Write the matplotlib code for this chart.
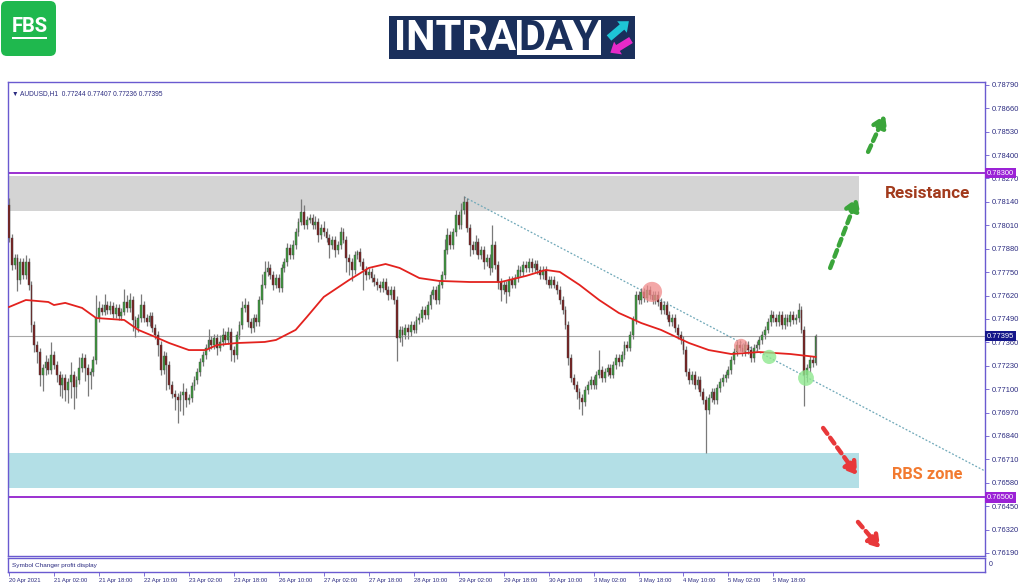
import numpy as np
import matplotlib.pyplot as plt
import matplotlib.transforms as mtransforms
from matplotlib.patches import Rectangle, FancyBboxPatch, FancyArrow

# AUDUSD H1, 20 Apr 2021 10:00 -> 6 May 2021 (prices)
first_open = 0.78123
closes = [
    0.77940, 0.77790, 0.77829, 0.77706, 0.77806, 0.77734, 0.77806, 0.77679, 0.77456, 0.77345,
    0.77306, 0.77179, 0.77217, 0.77251, 0.77206, 0.77290, 0.77234, 0.77179, 0.77123, 0.77162,
    0.77095, 0.77140, 0.77179, 0.77112, 0.77151, 0.77217, 0.77273, 0.77217, 0.77179, 0.77195,
    0.77262, 0.77495, 0.77551, 0.77529, 0.77567, 0.77540, 0.77562, 0.77517, 0.77551, 0.77506,
    0.77529, 0.77584, 0.77551, 0.77595, 0.77484, 0.77440, 0.77495, 0.77567, 0.77495, 0.77473,
    0.77506, 0.77440, 0.77401, 0.77345, 0.77206, 0.77284, 0.77234, 0.77123, 0.77073, 0.77056,
    0.77040, 0.77067, 0.77084, 0.77040, 0.77051, 0.77117, 0.77151, 0.77195, 0.77251, 0.77290,
    0.77329, 0.77373, 0.77345, 0.77384, 0.77329, 0.77362, 0.77401, 0.77373, 0.77417, 0.77317,
    0.77290, 0.77401, 0.77456, 0.77551, 0.77567, 0.77473, 0.77440, 0.77495, 0.77473, 0.77595,
    0.77679, 0.77751, 0.77773, 0.77734, 0.77679, 0.77717, 0.77662, 0.77773, 0.77806, 0.77884,
    0.77845, 0.77901, 0.77973, 0.78029, 0.78084, 0.78012, 0.78040, 0.78051, 0.78012, 0.78029,
    0.77956, 0.77995, 0.77973, 0.77940, 0.77901, 0.77929, 0.77873, 0.77901, 0.77973, 0.77929,
    0.77829, 0.77806, 0.77762, 0.77845, 0.77862, 0.77806, 0.77762, 0.77734, 0.77751, 0.77717,
    0.77695, 0.77679, 0.77662, 0.77695, 0.77651, 0.77623, 0.77651, 0.77595, 0.77384, 0.77429,
    0.77401, 0.77440, 0.77417, 0.77456, 0.77429, 0.77484, 0.77495, 0.77540, 0.77512, 0.77567,
    0.77623, 0.77651, 0.77595, 0.77679, 0.77734, 0.77873, 0.77956, 0.77901, 0.77973, 0.78067,
    0.78012, 0.78095, 0.78140, 0.77995, 0.77901, 0.77873, 0.77917, 0.77845, 0.77873, 0.77806,
    0.77829, 0.77773, 0.77901, 0.77790, 0.77695, 0.77651, 0.77679, 0.77640, 0.77706, 0.77679,
    0.77717, 0.77762, 0.77751, 0.77790, 0.77773, 0.77806, 0.77773, 0.77795, 0.77762, 0.77734,
    0.77762, 0.77706, 0.77679, 0.77706, 0.77679, 0.77651, 0.77595, 0.77540, 0.77456, 0.77273,
    0.77162, 0.77123, 0.77084, 0.77051, 0.77028, 0.77095, 0.77123, 0.77151, 0.77123, 0.77179,
    0.77206, 0.77162, 0.77195, 0.77217, 0.77179, 0.77234, 0.77273, 0.77251, 0.77290, 0.77345,
    0.77329, 0.77401, 0.77484, 0.77623, 0.77595, 0.77640, 0.77606, 0.77651, 0.77623, 0.77595,
    0.77623, 0.77584, 0.77540, 0.77567, 0.77512, 0.77473, 0.77495, 0.77440, 0.77401, 0.77373,
    0.77317, 0.77195, 0.77151, 0.77179, 0.77123, 0.77151, 0.77084, 0.77040, 0.76984, 0.77051,
    0.77084, 0.77040, 0.77106, 0.77140, 0.77162, 0.77179, 0.77206, 0.77262, 0.77306, 0.77345,
    0.77329, 0.77306, 0.77345, 0.77317, 0.77273, 0.77329, 0.77345, 0.77373, 0.77401, 0.77429,
    0.77473, 0.77512, 0.77495, 0.77473, 0.77512, 0.77456, 0.77495, 0.77473, 0.77512, 0.77484,
    0.77495, 0.77540, 0.77429, 0.77179, 0.77217, 0.77262, 0.77244, 0.77395,
]
# wick lengths in pips above / below the body
upper_wick = [
    4, 2, 2, 2, 2, 2, 4, 2, 2, 2,   2, 2, 2, 4, 2, 7, 2, 2, 2, 2,
    2, 2, 7, 2, 2, 6, 3, 2, 2, 2,   2, 13, 4, 2, 6, 2, 3, 2, 2, 2,
    2, 7, 4, 4, 2, 2, 2, 6, 2, 2,   2, 2, 2, 2, 2, 3, 2, 2, 2, 2,
    2, 2, 5, 2, 2, 2, 2, 2, 2, 2,   2, 6, 2, 2, 2, 4, 4, 2, 3, 2,
    2, 2, 2, 4, 4, 2, 2, 2, 2, 2,   6, 6, 4, 2, 2, 2, 2, 2, 2, 3,
    2, 3, 2, 2, 7, 4, 2, 2, 2, 3,   2, 2, 4, 2, 2, 2, 2, 2, 3, 2,
    2, 2, 2, 2, 1, 2, 2, 2, 2, 2,   2, 2, 2, 2, 2, 2, 2, 2, 2, 2,
    2, 2, 2, 2, 2, 2, 3, 2, 2, 2,   2, 2, 2, 2, 2, 6, 4, 2, 2, 3,
    2, 4, 3, 2, 2, 2, 4, 2, 2, 2,   2, 2, 11, 2, 2, 2, 2, 2, 2, 2,
    2, 3, 2, 2, 2, 2, 2, 2, 2, 2,   2, 2, 2, 2, 2, 2, 2, 2, 2, 2,
    2, 2, 2, 2, 2, 2, 2, 2, 2, 2,   11, 2, 2, 2, 2, 2, 2, 2, 2, 2,
    2, 2, 2, 2, 2, 2, 2, 3, 2, 2,   2, 2, 2, 2, 2, 2, 2, 2, 2, 2,
    2, 2, 2, 2, 2, 2, 2, 2, 2, 2,   2, 2, 2, 2, 2, 2, 2, 2, 2, 2,
    3, 2, 2, 2, 2, 2, 2, 2, 2, 2,   2, 3, 2, 2, 2, 2, 2, 2, 2, 2,
    2, 4, 2, 2, 2, 2, 2, 1.2,
]
lower_wick = [
    2, 3, 2, 6, 2, 2, 2, 3, 4, 4,   6, 6, 9, 4, 2, 2, 2, 4, 6, 7,
    6, 7, 9, 12, 6, 2, 2, 7, 12, 8,   2, 2, 2, 2, 2, 2, 2, 2, 2, 2,
    2, 2, 2, 2, 6, 5, 2, 2, 2, 2,   2, 2, 2, 6, 3, 2, 14, 2, 2, 7,
    13, 6, 11, 4, 2, 2, 2, 2, 2, 2,   2, 2, 2, 2, 4, 2, 2, 2, 2, 6,
    4, 2, 2, 2, 2, 3, 3, 2, 2, 2,   2, 2, 2, 2, 3, 2, 2, 2, 2, 2,
    2, 2, 2, 2, 2, 2, 2, 2, 2, 2,   4, 2, 2, 2, 7, 2, 4, 2, 2, 2,
    8, 7, 6, 2, 2, 2, 11, 3, 2, 2,   2, 3, 2, 2, 2, 3, 2, 2, 13, 2,
    6, 2, 4, 2, 2, 2, 2, 2, 2, 2,   2, 2, 2, 2, 2, 2, 2, 2, 2, 2,
    2, 2, 2, 2, 6, 2, 2, 2, 2, 4,   2, 4, 2, 2, 4, 6, 2, 6, 2, 2,
    2, 2, 2, 2, 2, 2, 2, 2, 2, 2,   2, 2, 2, 2, 2, 2, 2, 2, 2, 4,
    2, 2, 4, 6, 7, 2, 2, 2, 2, 2,   2, 2, 2, 2, 2, 2, 2, 2, 2, 2,
    2, 2, 2, 2, 2, 2, 2, 2, 2, 2,   2, 2, 2, 2, 2, 2, 2, 2, 2, 2,
    2, 2, 2, 2, 2, 2, 2, 2, 24, 2,   2, 2, 2, 2, 2, 2, 2, 2, 2, 2,
    2, 2, 2, 2, 2, 2, 2, 2, 2, 2,   2, 2, 2, 2, 2, 2, 2, 2, 2, 2,
    2, 2, 2, 17, 4, 2, 2, 0.8,
]

# red moving average (sampled along the chart)
ma_bars = [0, 6, 14, 16, 20, 26, 31, 41, 46, 52, 57, 64, 70, 74, 81, 91, 95, 102, 106, 112,
           121, 128, 134, 139, 146, 153, 164, 175, 184, 191, 196, 203, 210, 217, 225, 232,
           242, 249, 257, 267, 278, 287]
ma_values = [0.77556, 0.77595, 0.77584, 0.77567, 0.77579, 0.77551, 0.77495, 0.77484, 0.77429,
             0.77390, 0.77356, 0.77317, 0.77317, 0.77345, 0.77356, 0.77362, 0.77373, 0.77429,
             0.77501, 0.77612, 0.77706, 0.77773, 0.77795, 0.77773, 0.77717, 0.77701, 0.77695,
             0.77695, 0.77729, 0.77762, 0.77751, 0.77679, 0.77595, 0.77523, 0.77467, 0.77429,
             0.77356, 0.77317, 0.77295, 0.77306, 0.77295, 0.77279]

time_labels = ["20 Apr 2021", "21 Apr 02:00", "21 Apr 18:00", "22 Apr 10:00", "23 Apr 02:00",
               "23 Apr 18:00", "26 Apr 10:00", "27 Apr 02:00", "27 Apr 18:00", "28 Apr 10:00",
               "29 Apr 02:00", "29 Apr 18:00", "30 Apr 10:00", "3 May 02:00", "3 May 18:00",
               "4 May 10:00", "5 May 02:00", "5 May 18:00"]

price_ticks = [0.76190, 0.76320, 0.76450, 0.76580, 0.76710, 0.76840, 0.76970, 0.77100,
               0.77230, 0.77360, 0.77490, 0.77620, 0.77750, 0.77880, 0.78010, 0.78140,
               0.78270, 0.78400, 0.78530, 0.78660, 0.78790]

resistance_level = 0.78300
support_level = 0.76500
resistance_zone = (0.78090, 0.78284)
rbs_zone = (0.76551, 0.76745)
zone_end_bar = 302.5
trend_bars = [162, 347.3]
trend_prices = [0.78167, 0.76645]

pip = 0.0001
closes = np.array(closes)
opens = np.r_[first_open, closes[:-1]]
highs = np.maximum(opens, closes) + np.array(upper_wick) * pip
lows = np.minimum(opens, closes) - np.array(lower_wick) * pip
bars = np.arange(len(closes))

frame = '#6a5ad0'
txt = '#2b2b80'
small = ['Liberation Sans', 'DejaVu Sans']

fig = plt.figure(figsize=(10.24, 5.87), dpi=100)
fig.patch.set_facecolor('white')
ax = fig.add_axes([8 / 1024, 31 / 587, 977 / 1024, 474 / 587])
xlim = (-0.36, 347.3)
ax.set_xlim(*xlim)
ax.set_ylim(0.76173, 0.78806)

# zones and levels
ax.add_patch(Rectangle((xlim[0], resistance_zone[0]), zone_end_bar - xlim[0],
                       resistance_zone[1] - resistance_zone[0], fc='#d4d4d4', ec='none', zorder=0))
ax.add_patch(Rectangle((xlim[0], rbs_zone[0]), zone_end_bar - xlim[0],
                       rbs_zone[1] - rbs_zone[0], fc='#b3dfe6', ec='none', zorder=0))
ax.axhline(resistance_level, color='#9b30d0', lw=1.4, zorder=1)
ax.axhline(support_level, color='#9b30d0', lw=1.4, zorder=1)
ax.axhline(closes[-1], color='#a8a8a8', lw=0.8, zorder=1)
ax.plot(trend_bars, trend_prices, color='#6fa8b8', lw=0.9, ls=(0, (1.5, 1.5)), zorder=2)

# candles
ax.vlines(bars, lows, highs, color='#7a7a7a', lw=0.9, zorder=3)
up = closes >= opens
body = np.maximum(np.abs(closes - opens), 0.00002)
ax.bar(bars[up], body[up], bottom=opens[up], width=0.66, color='#3d9a3d',
       edgecolor='#4a4a4a', lw=0.3, zorder=4)
ax.bar(bars[~up], body[~up], bottom=closes[~up], width=0.66, color='#7a1e1e',
       edgecolor='#4a4a4a', lw=0.3, zorder=4)

ax.plot(ma_bars, ma_values, color='#e3221e', lw=1.3, zorder=5)

# highlight circles
ax.scatter([228.8, 260.5], [0.77640, 0.77340], s=[210, 105], color='#f08a8a', alpha=0.75,
           lw=0, zorder=6)
ax.scatter([270.5, 283.6], [0.77279, 0.77162], s=[105, 130], color='#8fe88f', alpha=0.8,
           lw=0, zorder=6)


def dashed_arrow(x0, y0, x1, y1, color):
    ax.annotate('', xy=(x1, y1), xytext=(x0, y0),
                arrowprops=dict(arrowstyle='-|>,head_length=0.7,head_width=0.45',
                                color=color, lw=3.2, ls=(0, (1.6, 1.1)),
                                shrinkA=0, shrinkB=0), zorder=7)


dashed_arrow(292.2, 0.77773, 301.8, 0.78162, '#3ba53b')
dashed_arrow(305.7, 0.78418, 311.7, 0.78623, '#3ba53b')
dashed_arrow(289.7, 0.76884, 301.8, 0.76623, '#e8383a')
dashed_arrow(302.1, 0.76362, 310.0, 0.76217, '#e8383a')

ax.text(327.0, 0.78185, 'Resistance', family=['Roboto', 'DejaVu Sans'], fontweight='bold',
        fontsize=12.3, color='#a23a1c', ha='center', va='center', zorder=8)
ax.text(326.9, 0.76625, 'RBS zone', family=['Roboto', 'DejaVu Sans'], fontweight='bold',
        fontsize=11.8, color='#f27a30', ha='center', va='center', zorder=8)

ax.text(0.004, 0.984, '\u25bc AUDUSD,H1  %.5f %.5f %.5f %.5f' % (opens[-1], highs[-1], lows[-1], closes[-1]),
        transform=ax.transAxes, fontsize=4.8, family=small, color=txt, va='top', ha='left')

# price axis on the right
ax.yaxis.tick_right()
ax.set_yticks(price_ticks)
ax.set_yticklabels(['%.5f' % p for p in price_ticks])
ax.tick_params(axis='y', direction='out', length=3, width=0.6, color=frame, labelsize=5.4,
               labelcolor=txt, pad=2)
for lab in ax.get_yticklabels():
    lab.set_family(small)
ax.set_xticks([])
for sp in ax.spines.values():
    sp.set_color(frame)
    sp.set_linewidth(1.0)

trans = mtransforms.blended_transform_factory(ax.transAxes, ax.transData)
for val, bg in [(resistance_level, '#9b22d6'), (closes[-1], '#14168a'), (support_level, '#9b22d6')]:
    ax.text(1.002, val, '%.5f' % val, transform=trans, fontsize=5.4, family=small, color='white',
            va='center', ha='left', zorder=10,
            bbox=dict(boxstyle='square,pad=0.25', fc=bg, ec='none'))

# bottom indicator panel with time axis
pan = fig.add_axes([8 / 1024, 15 / 587, 977 / 1024, 14 / 587])
pan.set_xlim(*xlim)
pan.set_ylim(0, 1)
pan.set_yticks([])
pan.set_xticks([16 * k for k in range(len(time_labels))])
pan.set_xticklabels(time_labels, ha='left')
pan.tick_params(axis='x', direction='out', length=3, width=0.6, color=frame, labelsize=4.2,
                labelcolor=txt, pad=1)
for lab in pan.get_xticklabels():
    lab.set_family(small)
for sp in pan.spines.values():
    sp.set_color(frame)
    sp.set_linewidth(1.0)
pan.text(0.004, 0.5, 'Symbol Changer profit display', transform=pan.transAxes, fontsize=4.6,
         family=small, color=txt, va='center', ha='left')
pan.text(1.004, 0.5, '0', transform=pan.transAxes, fontsize=5, family=small, color=txt,
         va='center', ha='left')

# logos along the top
top = fig.add_axes([0, 0, 1, 1])
top.set_xlim(0, 1024)
top.set_ylim(587, 0)
top.axis('off')
top.add_patch(FancyBboxPatch((1, 1), 55, 55, boxstyle='round,pad=0,rounding_size=6',
                             fc='#1fb84e', ec='none'))
top.text(29.5, 27, 'FBS', family=['Roboto', 'DejaVu Sans'], fontweight='bold', fontsize=14.5,
         color='white', ha='center', va='center')
top.add_patch(Rectangle((12, 37), 35, 2.2, fc='white', ec='none'))

top.add_patch(Rectangle((389, 16), 246, 43, fc='#1a2f5b', ec='none'))
top.add_patch(Rectangle((517, 20), 84, 35, fc='white', ec='none'))
top.text(394, 38, 'INTRA', family=['Roboto', 'DejaVu Sans'], fontweight='bold', fontsize=30,
         color='white', ha='left', va='center')
top.text(559, 38, 'DAY', family=['Roboto', 'DejaVu Sans'], fontweight='bold', fontsize=30,
         color='#1a2f5b', ha='center', va='center')
top.add_patch(FancyArrow(609, 38, 13, -11, width=7, head_width=15, head_length=9,
                         length_includes_head=False, fc='#1ec5d6', ec='none'))
top.add_patch(FancyArrow(631, 40, -13, 8, width=7, head_width=15, head_length=9,
                         length_includes_head=False, fc='#e62ac8', ec='none'))

fig.savefig('out.png', dpi=100)
